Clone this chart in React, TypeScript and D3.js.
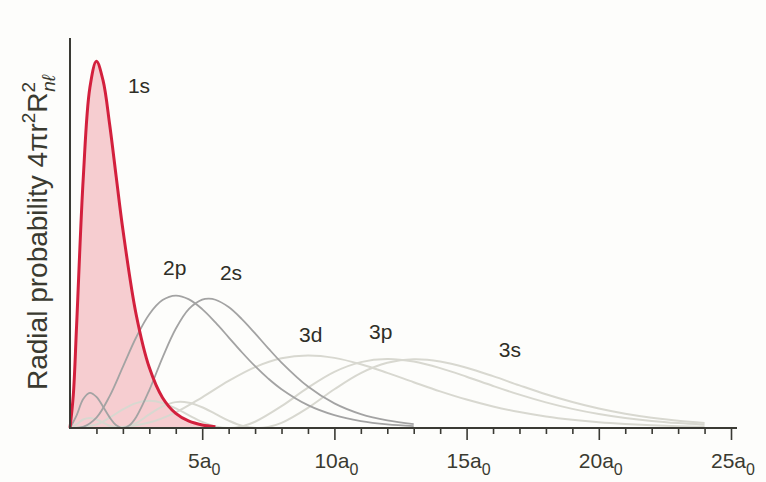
import React, { useRef, useEffect } from "react";
import * as d3 from "d3";

// radial probability curves (r in units of a0)
const r1s = [0, 0.125, 0.25, 0.5, 0.75, 1, 1.25, 1.5, 1.75, 2, 2.5, 3, 3.5, 4, 4.5, 5, 5.5];
const p1s = [0, 0.0487, 0.1516, 0.3679, 0.502, 0.5413, 0.513, 0.448, 0.37, 0.293, 0.168, 0.0892, 0.0447, 0.0215, 0.01, 0.0045, 0.002];

const r2s = [0, 0.25, 0.5, 0.75, 1, 1.25, 1.5, 1.75, 2, 2.25, 2.5, 3, 3.5, 4, 4.5, 5, 5.25, 5.5, 6, 6.5, 7, 7.5, 8, 9, 10, 11, 12, 13];
const p2s = [0, 0.0186, 0.0427, 0.0519, 0.046, 0.0315, 0.0157, 0.0042, 0, 0.0042, 0.016, 0.056, 0.104, 0.1465, 0.1758, 0.1895, 0.191, 0.1893, 0.1785, 0.1608, 0.1397, 0.1176, 0.0966, 0.0612, 0.0363, 0.0205, 0.0111, 0.0058];

const r2p = [0, 0.5, 1, 1.5, 2, 2.5, 3, 3.5, 4, 4.5, 5, 5.5, 6, 6.5, 7, 7.5, 8, 9, 10, 11, 12, 13];
const p2p = [0, 0.0016, 0.0153, 0.0471, 0.0902, 0.1336, 0.168, 0.1888, 0.1954, 0.1898, 0.1755, 0.1558, 0.1339, 0.1118, 0.0912, 0.0729, 0.0573, 0.0337, 0.0189, 0.0102, 0.0053, 0.0027];

const r3s = [0, 0.25, 0.5, 0.75, 1, 1.25, 1.5, 1.9, 2.5, 3, 3.5, 4, 4.5, 5, 5.5, 6, 6.5, 7.1, 7.5, 8, 9, 10, 11, 12, 13, 14, 15, 16, 17, 18, 19, 20, 21, 22, 23, 24];
const p3s = [0, 0.0055, 0.0125, 0.0148, 0.0126, 0.008, 0.0034, 0, 0.0073, 0.0201, 0.0319, 0.0382, 0.0373, 0.0306, 0.0208, 0.0109, 0.0034, 0, 0.0016, 0.0076, 0.0298, 0.0572, 0.081, 0.0962, 0.1015, 0.0983, 0.089, 0.0765, 0.0629, 0.0498, 0.0383, 0.0287, 0.021, 0.0151, 0.0106, 0.0074];

const r3p = [0, 1, 1.5, 2, 2.5, 3, 3.5, 4, 4.5, 5, 5.5, 6, 6.5, 7, 8, 9, 10, 11, 12, 13, 14, 15, 16, 17, 18, 19, 20, 21, 22, 23, 24];
const p3p = [0, 0.0052, 0.0153, 0.0274, 0.0367, 0.0401, 0.037, 0.0289, 0.0187, 0.0091, 0.0024, 0, 0.0024, 0.0092, 0.0322, 0.0595, 0.0828, 0.0972, 0.1018, 0.098, 0.0884, 0.0757, 0.0621, 0.0492, 0.0378, 0.0282, 0.0206, 0.0148, 0.0104, 0.0072, 0.0049];

const r3d = [0, 1, 2, 3, 4, 5, 6, 7, 8, 9, 10, 11, 12, 13, 14, 15, 16, 17, 18, 19, 20, 21, 22, 23, 24];
const p3d = [0, 0.00004, 0.0014, 0.008, 0.0231, 0.0453, 0.0695, 0.0899, 0.1029, 0.1071, 0.1035, 0.0941, 0.0814, 0.0676, 0.0541, 0.042, 0.0318, 0.0235, 0.017, 0.0121, 0.0084, 0.0058, 0.0039, 0.0026, 0.0018];

const majorTicks = [5, 10, 15, 20, 25];

const orbitalLabels = [
  { name: "1s", r: 2.19, p: 0.494 },
  { name: "2p", r: 3.52, p: 0.226 },
  { name: "2s", r: 5.67, p: 0.218 },
  { name: "3d", r: 8.66, p: 0.127 },
  { name: "3p", r: 11.31, p: 0.131 },
  { name: "3s", r: 16.22, p: 0.105 },
];

const W = 766;
const H = 482;
const FONT = "'Liberation Sans', Arial, Helvetica, sans-serif";

const App = () => {
  const svgRef = useRef<SVGSVGElement>(null);

  useEffect(() => {
    const svg = d3.select(svgRef.current);
    svg.selectAll("*").remove();

    const x = d3.scaleLinear().domain([0, 25]).range([70, 731]);
    const y = d3.scaleLinear().domain([0, 0.541]).range([428, 61.5]);

    const zip = (rs: number[], ps: number[]) => rs.map((r, i) => [r, ps[i]] as [number, number]);

    const curve = d3.curveCatmullRom.alpha(0.5);

    const line = d3
      .line<[number, number]>()
      .x((d) => x(d[0]))
      .y((d) => Math.min(y(d[1]), y(0)))
      .curve(curve);

    const area = d3
      .area<[number, number]>()
      .x((d) => x(d[0]))
      .y0(y(0))
      .y1((d) => y(d[1]))
      .curve(curve);

    // 1s filled area under everything
    svg.append("path").datum(zip(r1s, p1s)).attr("d", area).attr("fill", "#f6cdd0");

    // n = 3 curves, very light
    [[r3d, p3d], [r3p, p3p], [r3s, p3s]].forEach(([rs, ps]) => {
      svg
        .append("path")
        .datum(zip(rs, ps))
        .attr("d", line)
        .attr("fill", "none")
        .attr("stroke", "#d8d8d0")
        .attr("stroke-width", 2);
    });

    // n = 2 curves
    [[r2p, p2p], [r2s, p2s]].forEach(([rs, ps]) => {
      svg
        .append("path")
        .datum(zip(rs, ps))
        .attr("d", line)
        .attr("fill", "none")
        .attr("stroke", "#a3a3a3")
        .attr("stroke-width", 1.8);
    });

    // 1s outline
    svg
      .append("path")
      .datum(zip(r1s, p1s))
      .attr("d", line)
      .attr("fill", "none")
      .attr("stroke", "#d3203d")
      .attr("stroke-width", 3)
      .attr("stroke-linejoin", "round");

    // axes
    const axisColor = "#3a3a34";
    svg
      .append("line")
      .attr("x1", 70)
      .attr("x2", 70)
      .attr("y1", 38)
      .attr("y2", y(0))
      .attr("stroke", axisColor)
      .attr("stroke-width", 2);

    const xAxis = svg.append("g").attr("transform", `translate(0,${y(0)})`);
    xAxis
      .call(
        d3
          .axisBottom(x)
          .tickValues(d3.range(1, 26))
          .tickSize(6)
          .tickSizeOuter(0)
          .tickFormat(() => "")
      )
      .call((g) => g.select(".domain").remove());
    xAxis.selectAll(".tick line").attr("stroke", axisColor).attr("stroke-width", 1.6);
    xAxis
      .selectAll<SVGGElement, number>(".tick")
      .filter((d) => majorTicks.includes(d))
      .select("line")
      .attr("y2", 12);

    xAxis
      .append("line")
      .attr("x1", 69)
      .attr("x2", 737)
      .attr("stroke", axisColor)
      .attr("stroke-width", 2);

    majorTicks.forEach((t) => {
      const label = xAxis
        .append("text")
        .attr("x", x(t) + 2)
        .attr("y", 40)
        .attr("text-anchor", "middle")
        .attr("fill", "#3a3a30")
        .style("font-family", FONT)
        .style("font-size", "21px");
      label.append("tspan").text(`${t}a`);
      label.append("tspan").attr("dy", 7).style("font-size", "16px").text("0");
    });

    // y label
    const yl = svg
      .append("text")
      .attr("transform", "translate(47,390) rotate(-90)")
      .attr("fill", "#3a3a30")
      .style("font-family", FONT)
      .style("font-size", "28px");
    yl.append("tspan").text("Radial probability 4πr");
    yl.append("tspan").attr("dy", -12).style("font-size", "19px").text("2");
    yl.append("tspan").attr("dy", 12).text("R");
    yl.append("tspan").attr("dy", -12).style("font-size", "19px").text("2");
    yl.append("tspan")
      .attr("dx", -10)
      .attr("dy", 20)
      .style("font-size", "19px")
      .style("font-style", "italic")
      .text("nℓ");

    // orbital labels
    svg
      .selectAll(".orb")
      .data(orbitalLabels)
      .enter()
      .append("text")
      .attr("class", "orb")
      .attr("x", (d) => x(d.r))
      .attr("y", (d) => y(d.p))
      .attr("fill", "#2e2e26")
      .style("font-family", FONT)
      .style("font-size", "21px")
      .text((d) => d.name);
  }, []);

  return (
    <svg
      ref={svgRef}
      width={W}
      height={H}
      style={{ position: "absolute", left: 0, top: 0, background: "#fdfdfb" }}
    />
  );
};

export default App;
